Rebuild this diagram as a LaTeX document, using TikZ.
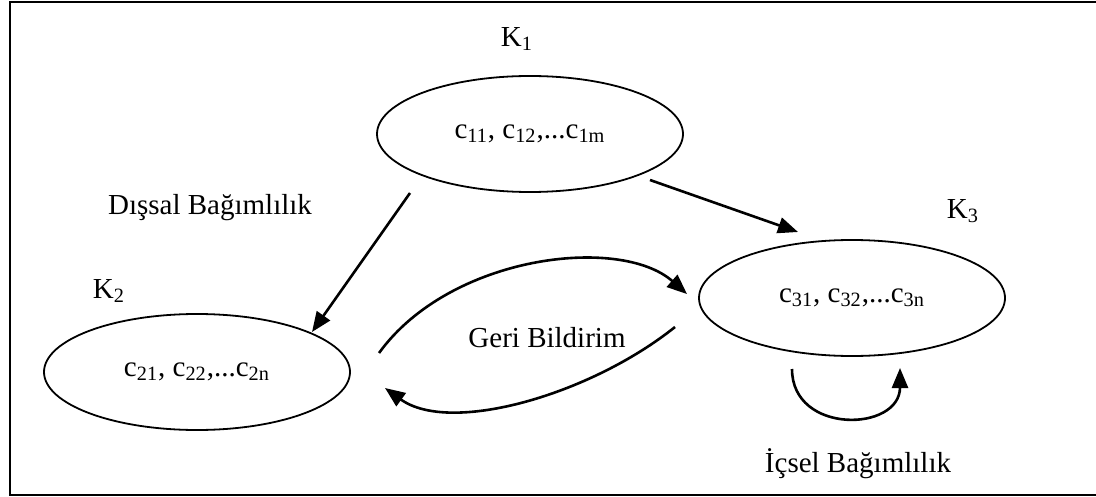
\documentclass[tikz,border=0pt]{standalone}
\usepackage{fontspec}
\setmainfont{Liberation Serif}
\usetikzlibrary{shapes.geometric,arrows.meta}
\begin{document}
\begin{tikzpicture}
  [x=0.5pt,y=-0.5pt,
   every node/.style={font=\fontsize{14.5}{17}\selectfont},
   cluster/.style={ellipse,draw=black,line width=0.9pt,align=center,
                   inner sep=0,outer sep=0,minimum width=153pt,minimum height=58pt},
   label/.style={inner sep=0,outer sep=0},
   link/.style={draw=black,line width=1.3pt,-{Triangle[length=10pt,width=8pt]}}]
  \useasboundingbox (0,0) rectangle (1096,497);
  \draw[line width=1pt] (1096,2.5) -- (9.5,2.5) -- (9.5,495) -- (1096,495);
  \node[cluster] (k1) at (530,134) {c\textsubscript{11}, c\textsubscript{12},...c\textsubscript{1m}};
  \node[cluster] (k2) at (197,372) {c\textsubscript{21}, c\textsubscript{22},...c\textsubscript{2n}};
  \node[cluster] (k3) at (852,298) {c\textsubscript{31}, c\textsubscript{32},...c\textsubscript{3n}};
  \node[label] (k1t) at (517,39) {K\textsubscript{1}};
  \node[label] (k2t) at (109,291) {K\textsubscript{2}};
  \node[label] (k3t) at (963,211) {K\textsubscript{3}};
  \node[label] (extt) at (210,208) {Dışsal Bağımlılık};
  \node[label] (fbt) at (547,338) {Geri Bildirim};
  \node[label] (intt) at (858,464) {İçsel Bağımlılık};
  \coordinate (ext1) at (410,193);
  \coordinate (ext2) at (312,332);
  \coordinate (ext3) at (650,180);
  \coordinate (ext4) at (798,232);
  \coordinate (fba) at (379,353);
  \coordinate (fbb) at (687,294);
  \coordinate (fbc) at (675,327);
  \coordinate (fbd) at (385,388);
  \coordinate (inta) at (792,369);
  \coordinate (intb) at (900,368);
  \draw[link] (ext1) -- (ext2);
  \draw[link] (ext3) -- (ext4);
  \draw[link] (fba) .. controls (450,255) and (620,235) .. (fbb);
  \draw[link] (fbc) .. controls (590,395) and (450,435) .. (fbd);
  \draw[link] (inta) .. controls (792,435) and (900,432) .. (intb);
\end{tikzpicture}
\end{document}
